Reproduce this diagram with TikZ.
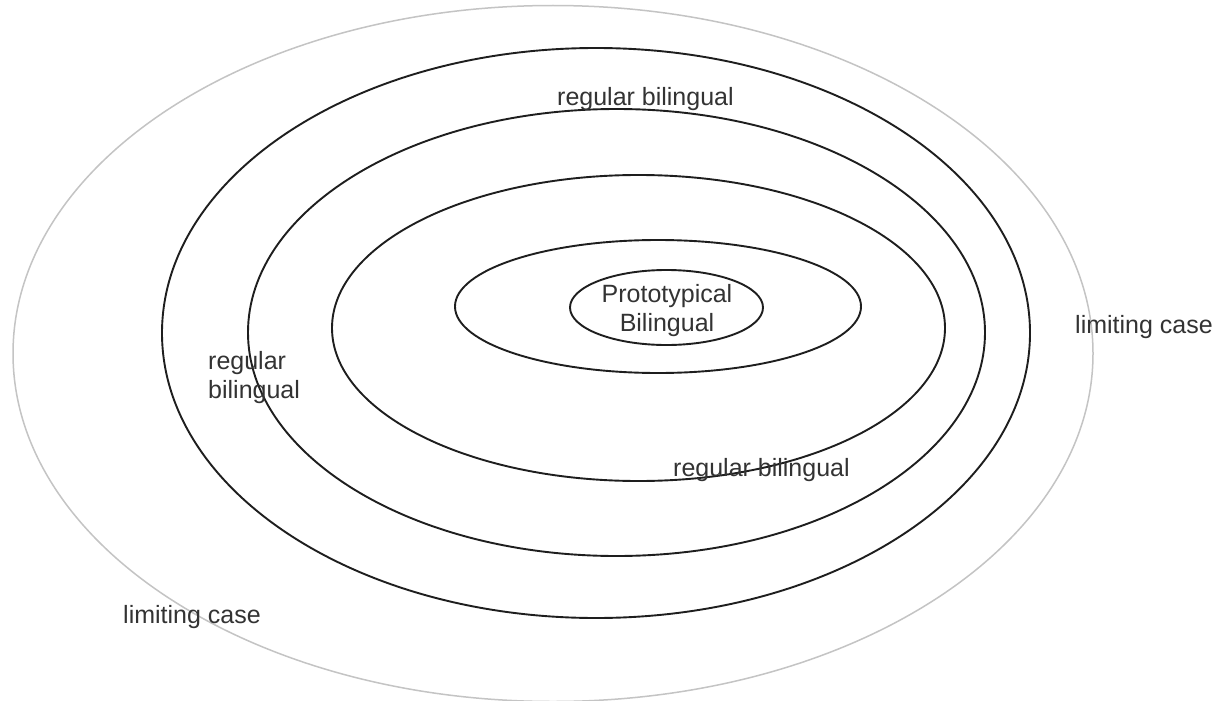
\documentclass[tikz,border=0pt]{standalone}
\usepackage{fontspec}
\setmainfont{Liberation Sans}
\definecolor{txt}{HTML}{333333}
\definecolor{ring}{HTML}{1E1E1E}
\definecolor{faint}{HTML}{C4C4C4}
\begin{document}
\begin{tikzpicture}[x=1pt,y=-1pt,
  ringline/.style={draw=ring,line width=1.9pt},
  faintline/.style={draw=faint,line width=1.5pt},
  lbl/.style={inner sep=0pt,text=txt,font=\fontsize{25}{29}\selectfont},
  lblc/.style={lbl,align=center},
  lbll/.style={lbl,align=left}]
\useasboundingbox[fill=white] (0,0) rectangle (1218,701);
% ellipses
\draw[faintline] (553,353.5) ellipse [x radius=540, y radius=348];
\draw[ringline] (596,333) ellipse [x radius=434, y radius=285];
\draw[ringline] (616.5,332.5) ellipse [x radius=368.5, y radius=223.5];
\draw[ringline] (638.5,328) ellipse [x radius=306.5, y radius=153];
\draw[ringline] (658,306.5) ellipse [x radius=203, y radius=66.5];
\draw[ringline] (666.5,307.5) ellipse [x radius=96.5, y radius=37.5];
% labels
\node[lbl,anchor=base west] (rtop) at (557,106) {regular bilingual};
\node[lbl,anchor=base] (proto) at (667,302) {Prototypical};
\node[lbl,anchor=base] (bil) at (667,331) {Bilingual};
\node[lbl,anchor=base west] (rleft1) at (208,369) {regular};
\node[lbl,anchor=base west] (rleft2) at (208,398) {bilingual};
\node[lbl,anchor=base west] (rbot) at (673,476) {regular bilingual};
\node[lbl,anchor=base west] (lright) at (1075,333) {limiting case};
\node[lbl,anchor=base west] (lleft) at (123,623) {limiting case};
\end{tikzpicture}
\end{document}
